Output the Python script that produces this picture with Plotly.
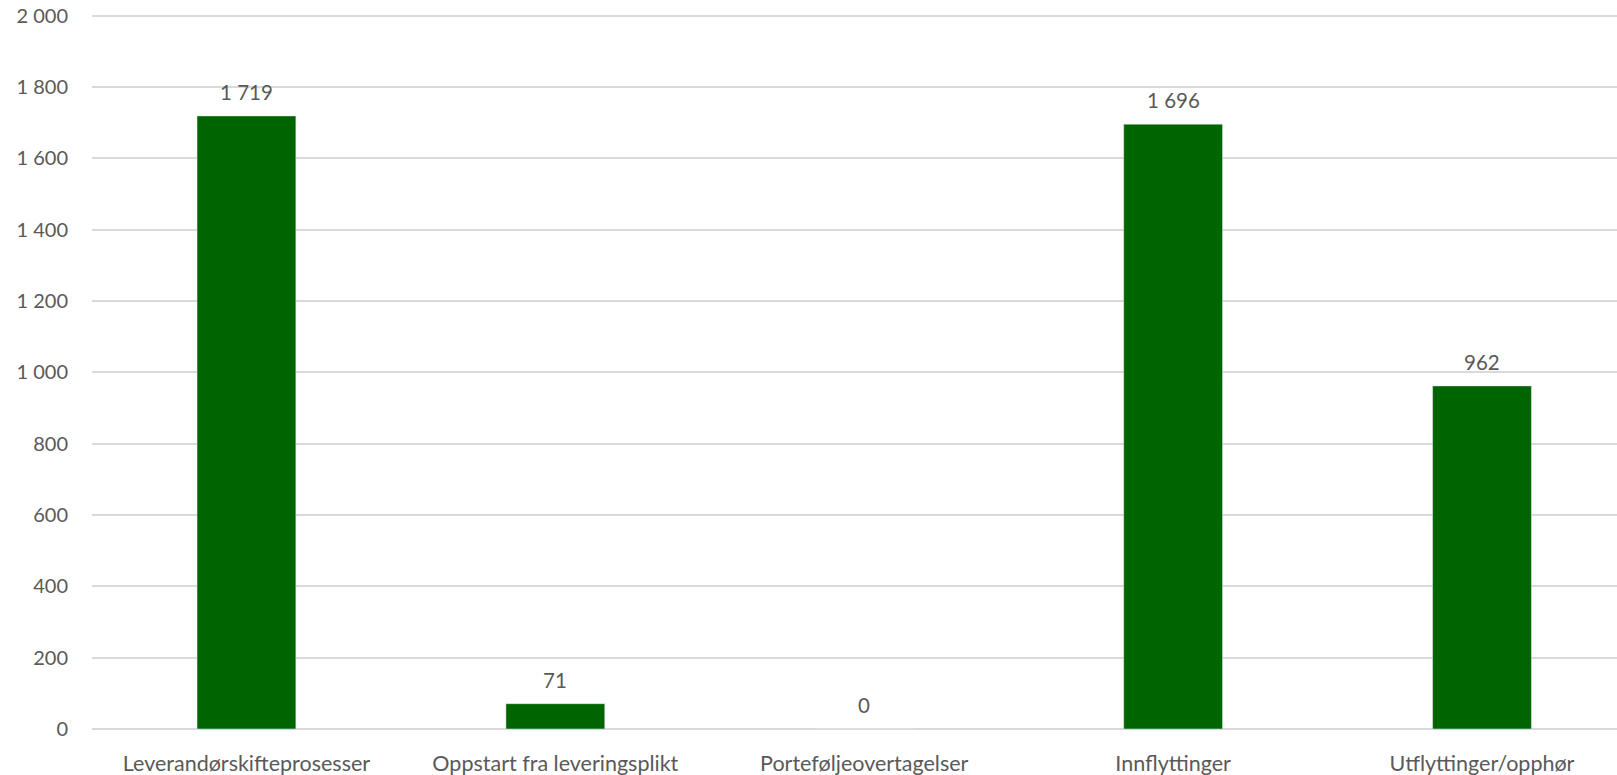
import plotly.graph_objects as go

categories = [
    "Leverandørskifteprosesser",
    "Oppstart fra leveringsplikt",
    "Porteføljeovertagelser",
    "Innflyttinger",
    "Utflyttinger/opphør",
]
values = [1719, 71, 0, 1696, 962]
y_ticks = [0, 200, 400, 600, 800, 1000, 1200, 1400, 1600, 1800, 2000]

BAR_GREEN = "#006400"
TEXT_GREY = "#595959"
GRID_GREY = "#d9d9d9"
FONT = "Lato"


def fmt(v):
    return f"{v:,}".replace(",", " ")


fig = go.Figure()
fig.add_trace(go.Bar(
    x=list(range(len(categories))),
    y=values,
    marker_color=BAR_GREEN,
    width=0.32,
    hoverinfo="skip",
))

for i, v in enumerate(values):
    fig.add_annotation(
        x=i, y=v, text=fmt(v), showarrow=False,
        yanchor="bottom", yshift=10,
        font=dict(family=FONT, size=20.5, color=TEXT_GREY),
    )

fig.update_layout(
    width=1617, height=775,
    margin=dict(l=92, r=0, t=10, b=46),
    paper_bgcolor="white", plot_bgcolor="white",
    showlegend=False,
    font=dict(family=FONT, size=20, color=TEXT_GREY),
)
fig.update_xaxes(
    tickmode="array",
    tickvals=list(range(len(categories))),
    ticktext=categories,
    range=[-0.5, 4.437],
    showgrid=False, zeroline=False, showline=False, ticks="",
    ticklabelstandoff=19,
    tickfont=dict(family=FONT, size=21.5, color=TEXT_GREY),
)
fig.update_yaxes(
    range=[0, 2016],
    tickmode="array",
    tickvals=y_ticks,
    ticktext=[fmt(t) for t in y_ticks],
    showgrid=True, gridcolor=GRID_GREY, gridwidth=1.5,
    zeroline=True, zerolinecolor=GRID_GREY, zerolinewidth=1.5,
    showline=False, ticks="",
    ticklabelstandoff=23,
    tickfont=dict(family=FONT, size=20, color=TEXT_GREY),
)

fig.write_html("out.html")
